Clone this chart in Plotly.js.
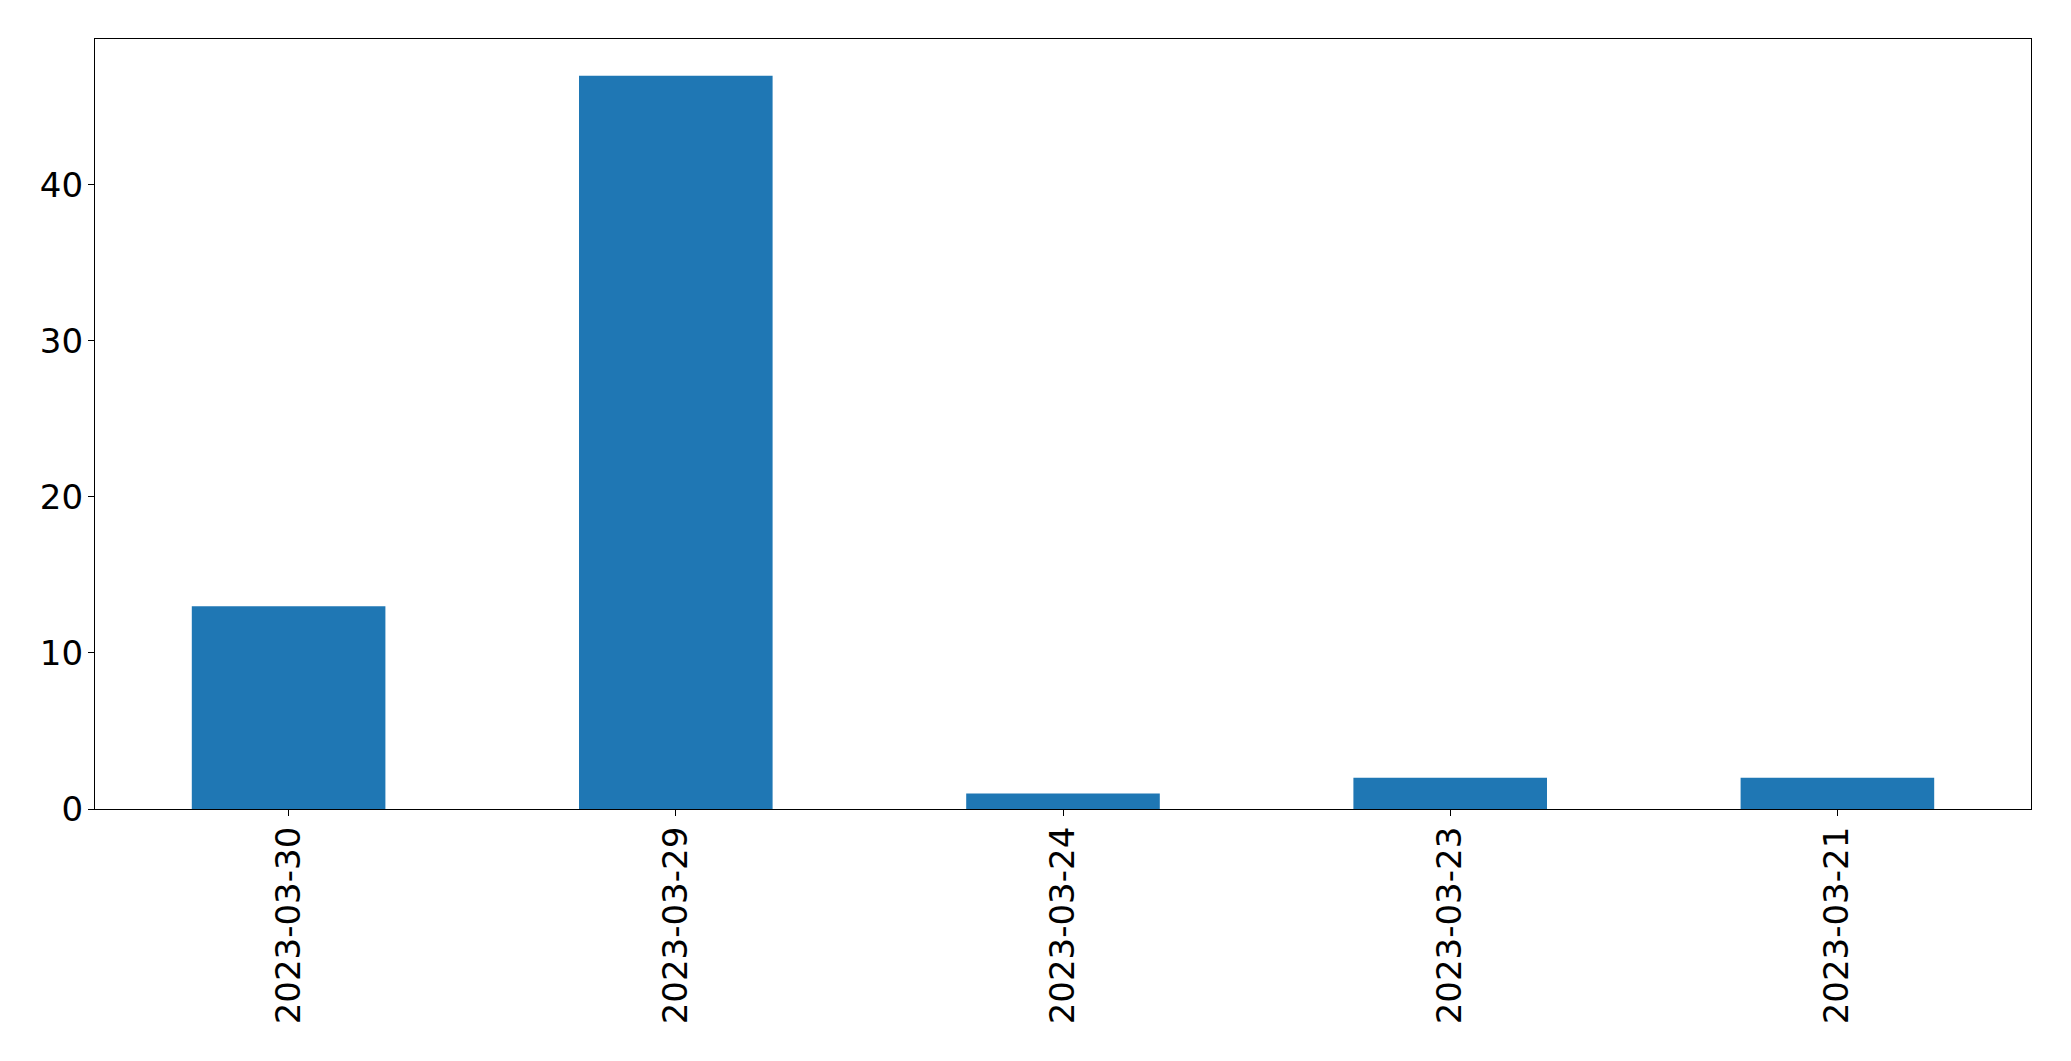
<!DOCTYPE html>
<html>
<head>
<meta charset="utf-8">
<script src="https://cdn.plot.ly/plotly-3.0.1.min.js"></script>
<style>
  html, body { margin: 0; padding: 0; background: white; }
  #chart { width: 2071px; height: 1061px; }
</style>
</head>
<body>
<div id="chart"></div>
<script>
// dates as category labels, in the order shown
var dates = ['2023-03-30', '2023-03-29', '2023-03-24', '2023-03-23', '2023-03-21'];
var counts = [13, 47, 1, 2, 2];
var yTicks = [0, 10, 20, 30, 40];

var plotdata = [{
    x: dates,
    y: counts,
    type: 'bar',
    width: 0.5,
    marker: { color: '#1f77b4' },
    hoverinfo: 'x+y'
}];

var layout = {
    width: 2071,
    height: 1061,
    margin: { l: 95, r: 40, t: 39, b: 252 },
    paper_bgcolor: 'white',
    plot_bgcolor: 'white',
    showlegend: false,
    font: { family: 'DejaVu Sans', size: 34, color: 'black' },
    xaxis: {
        type: 'category',
        range: [-0.5, 4.5],
        tickangle: -90,
        ticks: 'outside',
        ticklen: 6,
        tickwidth: 1.3,
        tickcolor: 'black',
        ticklabelstandoff: -3,
        showline: true,
        linecolor: 'black',
        linewidth: 1.3,
        mirror: true,
        showgrid: false,
        zeroline: false
    },
    yaxis: {
        range: [0, 49.35],
        tickvals: yTicks,
        ticktext: yTicks.map(String),
        ticks: 'outside',
        ticklen: 6,
        tickwidth: 1.3,
        tickcolor: 'black',
        ticklabelstandoff: -2,
        showline: true,
        linecolor: 'black',
        linewidth: 1.3,
        mirror: true,
        showgrid: false,
        zeroline: false
    }
};

var config = { responsive: false, displayModeBar: false };
Plotly.newPlot(document.getElementById('chart'), plotdata, layout, config);
</script>
</body>
</html>
